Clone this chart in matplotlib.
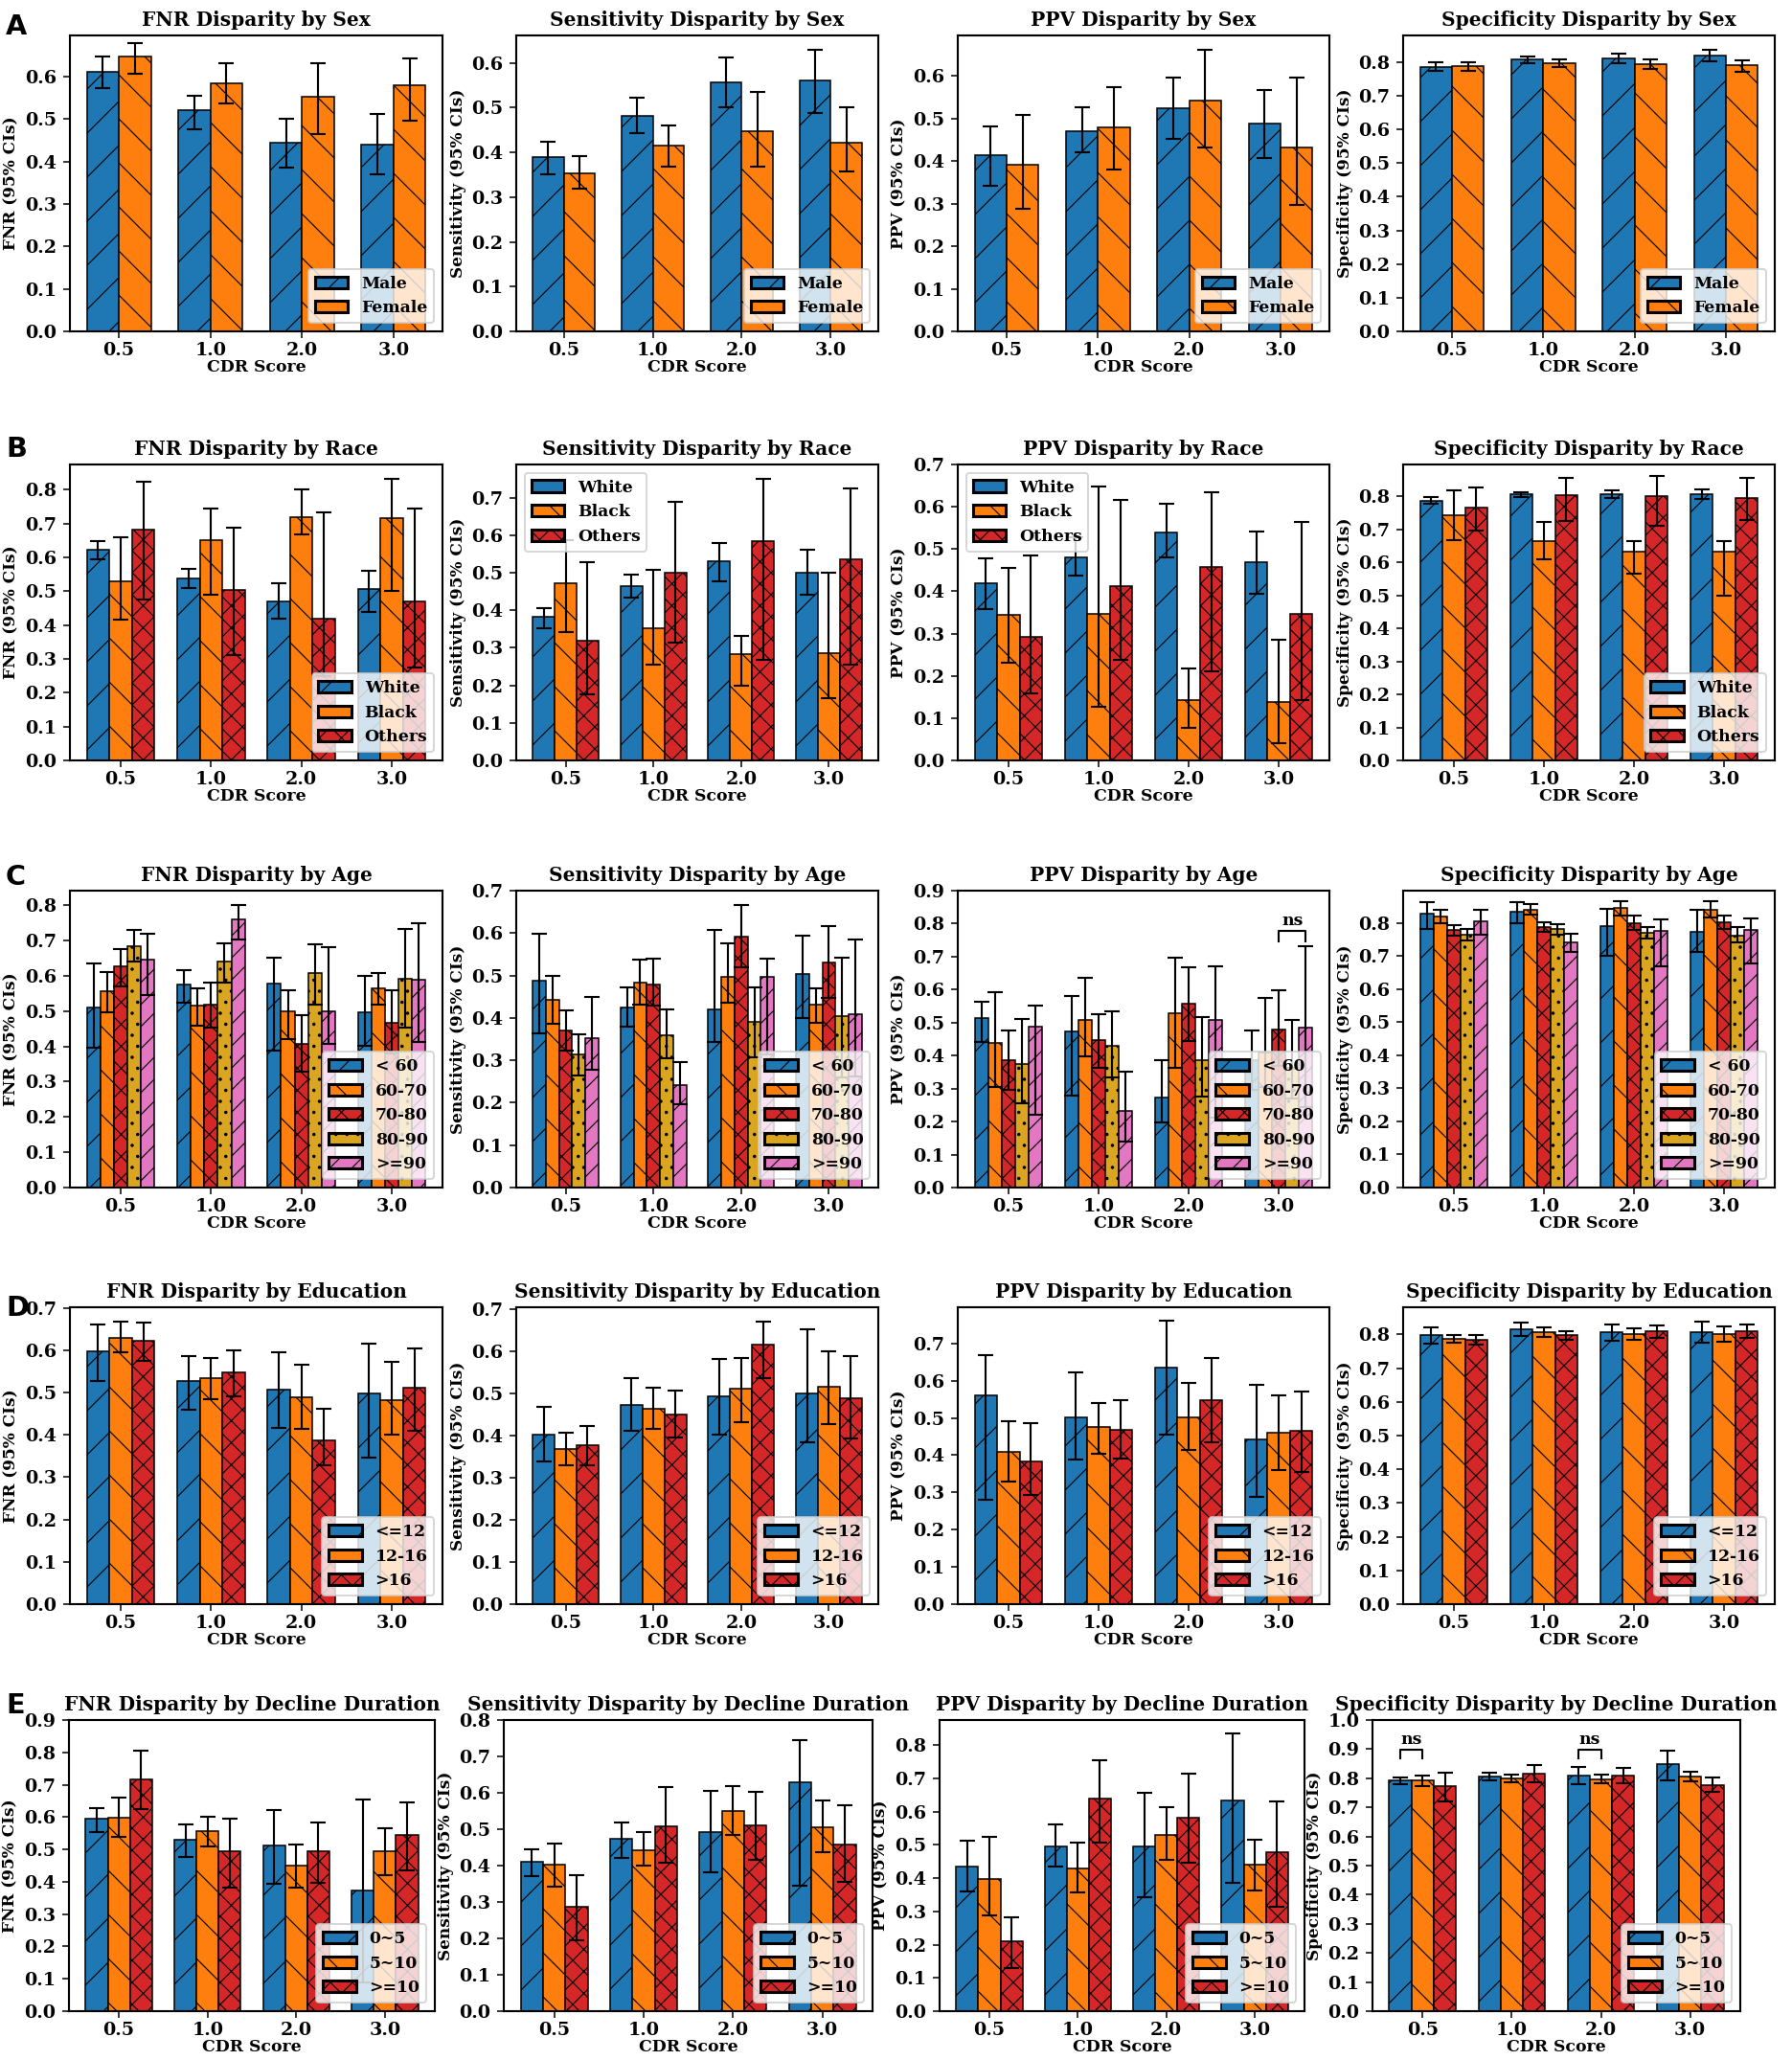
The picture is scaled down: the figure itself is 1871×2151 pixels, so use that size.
import numpy as np
import matplotlib
matplotlib.use("Agg")
import matplotlib.pyplot as plt
from matplotlib.ticker import MultipleLocator

plt.rcParams['font.family'] = ['DejaVu Serif']
plt.rcParams['font.weight'] = 'bold'
plt.rcParams['axes.labelweight'] = 'bold'
plt.rcParams['axes.titleweight'] = 'bold'
plt.rcParams['hatch.linewidth'] = 0.6
plt.rcParams['axes.linewidth'] = 1.1

cdr_labels = ['0.5', '1.0', '2.0', '3.0']

# ---- A: sex ----
sex_groups = ['Male', 'Female']
fnr_sex = [[0.612, 0.522, 0.445, 0.440], [0.648, 0.585, 0.553, 0.579]]
fnr_sex_lo = [[0.574, 0.477, 0.386, 0.370], [0.606, 0.537, 0.464, 0.496]]
fnr_sex_hi = [[0.647, 0.555, 0.501, 0.512], [0.679, 0.631, 0.632, 0.643]]
sens_sex = [[0.389, 0.481, 0.557, 0.561], [0.353, 0.415, 0.447, 0.421]]
sens_sex_lo = [[0.351, 0.443, 0.500, 0.488], [0.319, 0.369, 0.368, 0.357]]
sens_sex_hi = [[0.424, 0.522, 0.613, 0.630], [0.391, 0.461, 0.535, 0.501]]
ppv_sex = [[0.413, 0.471, 0.525, 0.488], [0.392, 0.479, 0.542, 0.432]]
ppv_sex_lo = [[0.341, 0.420, 0.452, 0.407], [0.287, 0.381, 0.431, 0.296]]
ppv_sex_hi = [[0.482, 0.527, 0.597, 0.567], [0.509, 0.573, 0.662, 0.596]]
spec_sex = [[0.786, 0.809, 0.811, 0.819], [0.787, 0.796, 0.793, 0.790]]
spec_sex_lo = [[0.774, 0.796, 0.797, 0.801], [0.773, 0.785, 0.778, 0.771]]
spec_sex_hi = [[0.798, 0.817, 0.826, 0.837], [0.800, 0.808, 0.808, 0.806]]

# ---- B: race ----
race_groups = ['White', 'Black', 'Others']
fnr_race = [[0.622, 0.539, 0.470, 0.506], [0.530, 0.651, 0.720, 0.715], [0.683, 0.503, 0.418, 0.469]]
fnr_race_lo = [[0.595, 0.509, 0.420, 0.440], [0.415, 0.490, 0.667, 0.500], [0.475, 0.310, 0.249, 0.275]]
fnr_race_hi = [[0.647, 0.566, 0.524, 0.560], [0.660, 0.745, 0.800, 0.833], [0.824, 0.689, 0.733, 0.744]]
sens_race = [[0.382, 0.464, 0.531, 0.499], [0.471, 0.352, 0.283, 0.287], [0.319, 0.500, 0.584, 0.535]]
sens_race_lo = [[0.353, 0.433, 0.477, 0.442], [0.342, 0.254, 0.199, 0.167], [0.176, 0.313, 0.268, 0.256]]
sens_race_hi = [[0.406, 0.494, 0.580, 0.561], [0.586, 0.509, 0.333, 0.501], [0.527, 0.690, 0.751, 0.726]]
ppv_race = [[0.419, 0.481, 0.540, 0.468], [0.344, 0.347, 0.142, 0.139], [0.292, 0.412, 0.458, 0.346]]
ppv_race_lo = [[0.358, 0.438, 0.480, 0.394], [0.232, 0.127, 0.077, 0.041], [0.159, 0.238, 0.211, 0.142]]
ppv_race_hi = [[0.478, 0.527, 0.606, 0.542], [0.456, 0.647, 0.217, 0.285], [0.484, 0.616, 0.634, 0.565]]
spec_race = [[0.787, 0.806, 0.807, 0.807], [0.744, 0.665, 0.632, 0.632], [0.766, 0.805, 0.802, 0.796]]
spec_race_lo = [[0.777, 0.797, 0.795, 0.793], [0.668, 0.610, 0.566, 0.500], [0.697, 0.726, 0.710, 0.728]]
spec_race_hi = [[0.797, 0.814, 0.818, 0.822], [0.819, 0.724, 0.666, 0.666], [0.828, 0.857, 0.862, 0.855]]

# ---- C: age ----
age_groups = ['< 60', '60-70', '70-80', '80-90', '>=90']
fnr_age = [[0.511, 0.576, 0.577, 0.496], [0.556, 0.515, 0.500, 0.565], [0.628, 0.518, 0.407, 0.467],
           [0.684, 0.639, 0.609, 0.592], [0.647, 0.759, 0.500, 0.590]]
fnr_age_lo = [[0.397, 0.523, 0.388, 0.401], [0.497, 0.458, 0.421, 0.518], [0.569, 0.452, 0.328, 0.381],
              [0.641, 0.580, 0.519, 0.453], [0.545, 0.702, 0.408, 0.412]]
fnr_age_hi = [[0.635, 0.616, 0.652, 0.600], [0.611, 0.564, 0.559, 0.607], [0.675, 0.580, 0.488, 0.558],
              [0.731, 0.692, 0.690, 0.733], [0.720, 0.801, 0.680, 0.749]]
sens_age = [[0.488, 0.425, 0.421, 0.504], [0.443, 0.484, 0.497, 0.431], [0.370, 0.480, 0.592, 0.532],
            [0.313, 0.360, 0.391, 0.405], [0.353, 0.241, 0.497, 0.410]]
sens_age_lo = [[0.364, 0.380, 0.344, 0.399], [0.386, 0.432, 0.437, 0.389], [0.324, 0.430, 0.520, 0.448],
               [0.264, 0.304, 0.307, 0.260], [0.277, 0.196, 0.314, 0.261]]
sens_age_hi = [[0.598, 0.472, 0.607, 0.595], [0.500, 0.538, 0.575, 0.469], [0.418, 0.541, 0.667, 0.617],
               [0.361, 0.421, 0.473, 0.542], [0.449, 0.295, 0.539, 0.585]]
ppv_age = [[0.513, 0.472, 0.273, 0.386], [0.437, 0.507, 0.528, 0.410], [0.387, 0.446, 0.557, 0.479],
           [0.375, 0.431, 0.386, 0.364], [0.489, 0.231, 0.508, 0.484]]
ppv_age_lo = [[0.442, 0.279, 0.197, 0.297], [0.304, 0.399, 0.363, 0.306], [0.296, 0.363, 0.445, 0.368],
              [0.256, 0.333, 0.275, 0.269], [0.221, 0.138, 0.211, 0.243]]
ppv_age_hi = [[0.564, 0.581, 0.386, 0.476], [0.591, 0.637, 0.696, 0.576], [0.477, 0.526, 0.667, 0.598],
              [0.510, 0.534, 0.516, 0.507], [0.553, 0.352, 0.672, 0.731]]
spec_age = [[0.827, 0.834, 0.791, 0.773], [0.820, 0.840, 0.844, 0.840], [0.777, 0.788, 0.799, 0.801],
            [0.764, 0.780, 0.770, 0.762], [0.804, 0.741, 0.776, 0.779]]
spec_age_lo = [[0.782, 0.798, 0.701, 0.711], [0.800, 0.824, 0.823, 0.816], [0.762, 0.774, 0.777, 0.780],
               [0.746, 0.764, 0.753, 0.740], [0.763, 0.713, 0.667, 0.677]]
spec_age_hi = [[0.862, 0.861, 0.841, 0.840], [0.839, 0.856, 0.866, 0.864], [0.792, 0.802, 0.821, 0.822],
               [0.782, 0.796, 0.787, 0.786], [0.838, 0.767, 0.809, 0.814]]

# ---- D: education ----
edu_groups = ['<=12', '12-16', '>16']
fnr_edu = [[0.597, 0.528, 0.507, 0.497], [0.630, 0.534, 0.489, 0.481], [0.622, 0.547, 0.386, 0.512]]
fnr_edu_lo = [[0.528, 0.460, 0.416, 0.346], [0.594, 0.484, 0.414, 0.400], [0.574, 0.492, 0.327, 0.410]]
fnr_edu_hi = [[0.660, 0.585, 0.596, 0.615], [0.668, 0.581, 0.566, 0.572], [0.666, 0.600, 0.462, 0.604]]
sens_edu = [[0.402, 0.472, 0.493, 0.500], [0.368, 0.463, 0.510, 0.516], [0.376, 0.450, 0.614, 0.487]]
sens_edu_lo = [[0.338, 0.410, 0.402, 0.383], [0.328, 0.416, 0.431, 0.427], [0.330, 0.396, 0.535, 0.392]]
sens_edu_hi = [[0.468, 0.536, 0.580, 0.651], [0.406, 0.512, 0.583, 0.598], [0.423, 0.506, 0.670, 0.587]]
ppv_edu = [[0.560, 0.502, 0.636, 0.443], [0.408, 0.475, 0.502, 0.459], [0.382, 0.468, 0.547, 0.466]]
ppv_edu_lo = [[0.281, 0.387, 0.456, 0.289], [0.328, 0.403, 0.415, 0.359], [0.294, 0.392, 0.435, 0.355]]
ppv_edu_hi = [[0.669, 0.621, 0.760, 0.589], [0.491, 0.540, 0.594, 0.560], [0.487, 0.547, 0.660, 0.571]]
spec_edu = [[0.798, 0.816, 0.806, 0.807], [0.787, 0.807, 0.801, 0.802], [0.785, 0.798, 0.810, 0.810]]
spec_edu_lo = [[0.774, 0.797, 0.782, 0.776], [0.775, 0.794, 0.784, 0.780], [0.770, 0.784, 0.791, 0.790]]
spec_edu_hi = [[0.820, 0.835, 0.831, 0.839], [0.799, 0.820, 0.818, 0.825], [0.799, 0.811, 0.828, 0.829]]

# ---- E: decline duration ----
dur_groups = ['0~5', '5~10', '>=10']
fnr_dur = [[0.594, 0.530, 0.513, 0.373], [0.599, 0.556, 0.451, 0.495], [0.715, 0.494, 0.493, 0.545]]
fnr_dur_lo = [[0.555, 0.478, 0.393, 0.090], [0.538, 0.508, 0.381, 0.419], [0.624, 0.382, 0.397, 0.434]]
fnr_dur_hi = [[0.628, 0.577, 0.621, 0.655], [0.659, 0.601, 0.516, 0.565], [0.805, 0.594, 0.582, 0.644]]
sens_dur = [[0.410, 0.473, 0.491, 0.629], [0.403, 0.443, 0.549, 0.506], [0.287, 0.509, 0.511, 0.458]]
sens_dur_lo = [[0.372, 0.421, 0.381, 0.346], [0.341, 0.399, 0.484, 0.437], [0.195, 0.407, 0.416, 0.354]]
sens_dur_hi = [[0.444, 0.519, 0.606, 0.744], [0.461, 0.491, 0.618, 0.580], [0.375, 0.616, 0.602, 0.565]]
ppv_dur = [[0.434, 0.496, 0.496, 0.633], [0.397, 0.428, 0.531, 0.440], [0.209, 0.639, 0.581, 0.479]]
ppv_dur_lo = [[0.360, 0.434, 0.344, 0.386], [0.287, 0.358, 0.454, 0.363], [0.131, 0.507, 0.447, 0.313]]
ppv_dur_hi = [[0.514, 0.561, 0.658, 0.834], [0.523, 0.506, 0.614, 0.516], [0.283, 0.755, 0.715, 0.632]]
spec_dur = [[0.793, 0.807, 0.810, 0.849], [0.793, 0.798, 0.796, 0.807], [0.773, 0.815, 0.809, 0.776]]
spec_dur_lo = [[0.779, 0.794, 0.780, 0.793], [0.772, 0.786, 0.783, 0.791], [0.719, 0.785, 0.783, 0.753]]
spec_dur_hi = [[0.802, 0.818, 0.840, 0.895], [0.810, 0.813, 0.811, 0.824], [0.818, 0.845, 0.834, 0.801]]

colors = ['#1f77b4', '#ff7f0e', '#d62728', '#daa520', '#e377c2']
hatches = ['/', '\\', 'xx', '..', '//']

metrics = ['FNR', 'Sensitivity', 'PPV', 'Specificity']
rows = [
    ('Sex', sex_groups, 0.35, [(fnr_sex, fnr_sex_lo, fnr_sex_hi), (sens_sex, sens_sex_lo, sens_sex_hi),
                               (ppv_sex, ppv_sex_lo, ppv_sex_hi), (spec_sex, spec_sex_lo, spec_sex_hi)]),
    ('Race', race_groups, 0.25, [(fnr_race, fnr_race_lo, fnr_race_hi), (sens_race, sens_race_lo, sens_race_hi),
                                 (ppv_race, ppv_race_lo, ppv_race_hi), (spec_race, spec_race_lo, spec_race_hi)]),
    ('Age', age_groups, 0.15, [(fnr_age, fnr_age_lo, fnr_age_hi), (sens_age, sens_age_lo, sens_age_hi),
                               (ppv_age, ppv_age_lo, ppv_age_hi), (spec_age, spec_age_lo, spec_age_hi)]),
    ('Education', edu_groups, 0.25, [(fnr_edu, fnr_edu_lo, fnr_edu_hi), (sens_edu, sens_edu_lo, sens_edu_hi),
                                     (ppv_edu, ppv_edu_lo, ppv_edu_hi), (spec_edu, spec_edu_lo, spec_edu_hi)]),
    ('Decline Duration', dur_groups, 0.25, [(fnr_dur, fnr_dur_lo, fnr_dur_hi), (sens_dur, sens_dur_lo, sens_dur_hi),
                                            (ppv_dur, ppv_dur_lo, ppv_dur_hi), (spec_dur, spec_dur_lo, spec_dur_hi)]),
]

# fixed y tops where the original set them
ytops = {(0, 0): 0.697, (1, 2): 0.7, (1, 3): 0.897, (2, 2): 0.9, (2, 3): 0.897, (3, 2): 0.797,
         (4, 0): 0.9, (4, 1): 0.8, (4, 3): 1.0}
upper_left = {(1, 1), (1, 2)}

# axes boxes in pixels: (bottom, top) rows, (left, right) cols
W, H = 1871, 2151
row_y = [(346, 37), (794, 485), (1240, 930), (1675, 1365), (2100, 1796)]
col_x = [(73, 462), (539, 917), (1000, 1388), (1465, 1853)]
col_x_e = [(72, 454), (526, 911), (981, 1362), (1433, 1817)]
letter_y = [14, 455, 902, 1352, 1767]

DPI = 138
fig = plt.figure(figsize=(W / DPI, H / DPI), dpi=DPI)
x = np.arange(4)

for r, (attr, groups, w, panels) in enumerate(rows):
    cols = col_x_e if r == 4 else col_x
    for c in range(4):
        l, rr = cols[c]
        b, t = row_y[r]
        ax = fig.add_axes([l / W, 1 - b / H, (rr - l) / W, (b - t) / H])
        vals, lo, hi = panels[c]
        n = len(groups)
        for g in range(n):
            v = np.array(vals[g])
            err = [v - np.array(lo[g]), np.array(hi[g]) - v]
            ax.bar(x + (g - (n - 1) / 2) * w, v, w, color=colors[g], edgecolor='black', linewidth=0.8,
                   hatch=hatches[g], label=groups[g], yerr=err, capsize=4,
                   error_kw=dict(ecolor='black', elinewidth=1.1, capthick=1.1))
        if (r, c) in ytops:
            ax.set_ylim(0, ytops[(r, c)])
        ax.yaxis.set_major_locator(MultipleLocator(0.1))
        ax.set_xticks(x)
        ax.set_xticklabels(cdr_labels)
        ax.tick_params(axis='both', labelsize=10)
        ax.tick_params(axis='x', pad=2)
        ax.set_xlabel('CDR Score', fontsize=9, labelpad=0)
        ax.set_ylabel(metrics[c] + ' (95% CIs)', fontsize=8.8, labelpad=3)
        ax.set_title(metrics[c] + ' Disparity by ' + attr, fontsize=10.5, pad=5)
        leg = ax.legend(loc='upper left' if (r, c) in upper_left else 'lower right', fontsize=9)
        for h in leg.legend_handles:
            h.set_linewidth(1.6)
        # significance brackets
        if (r, c) == (2, 2):
            x1, x2 = 3.0, 3.3
            ax.plot([x1, x1, x2, x2], [0.747, 0.778, 0.778, 0.747], color='black', lw=1.1)
            ax.text((x1 + x2) / 2, 0.785, 'ns', ha='center', va='bottom', fontsize=9)
        if (r, c) == (4, 3):
            for xc in [0.0, 2.0]:
                x1, x2 = xc - 0.25, xc
                ax.plot([x1, x1, x2, x2], [0.868, 0.898, 0.898, 0.868], color='black', lw=1.1)
                ax.text((x1 + x2) / 2, 0.903, 'ns', ha='center', va='bottom', fontsize=9)
    fig.text(6 / W, 1 - letter_y[r] / H, 'ABCDE'[r], fontsize=15, fontweight='bold',
             family='DejaVu Sans', ha='left', va='top')

fig.savefig('out.png', dpi=DPI, facecolor='white')
